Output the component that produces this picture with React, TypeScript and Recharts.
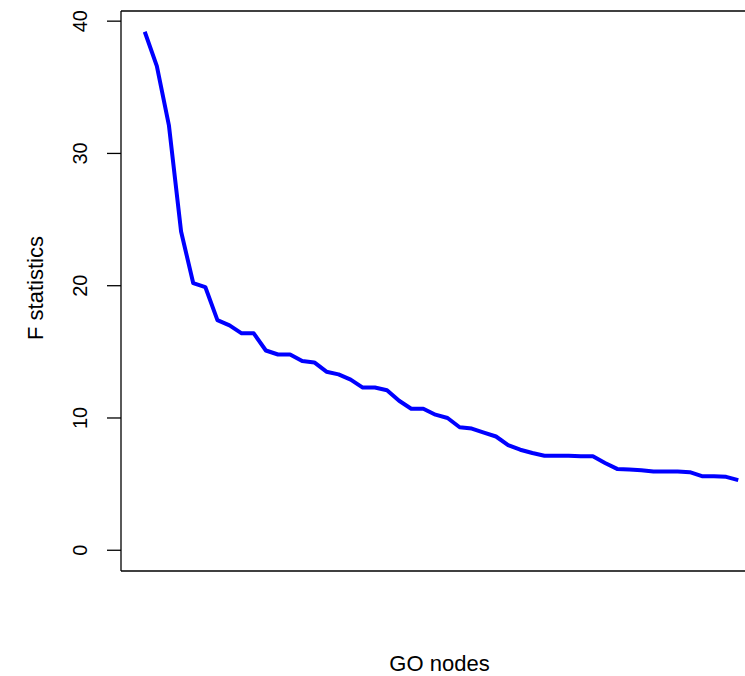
import { LineChart, Line, XAxis, YAxis, ReferenceLine } from 'recharts';

// GO node rank (1..50) and F statistic
const nodeRanks = [
  1, 2, 3, 4, 5, 6, 7, 8, 9, 10, 11, 12, 13, 14, 15, 16, 17, 18, 19, 20, 21,
  22, 23, 24, 25, 26, 27, 28, 29, 30, 31, 32, 33, 34, 35, 36, 37, 38, 39, 40,
  41, 42, 43, 44, 45, 46, 47, 48, 49, 50,
];
const fStats = [
  39.2, 36.6, 32.1, 24.1, 20.2, 19.9, 17.4, 17.0, 16.4, 16.4, 15.1, 14.8, 14.8,
  14.3, 14.2, 13.5, 13.3, 12.9, 12.3, 12.3, 12.1, 11.3, 10.7, 10.7, 10.25, 10.0,
  9.3, 9.2, 8.9, 8.6, 7.95, 7.6, 7.35, 7.15, 7.15, 7.15, 7.1, 7.1, 6.6, 6.15,
  6.1, 6.05, 5.95, 5.95, 5.95, 5.9, 5.6, 5.6, 5.55, 5.3,
];
const yTicks = [0, 10, 20, 30, 40];

const data = nodeRanks.map((rank, i) => ({ rank, f: fStats[i] }));

// R-style 4% padding around the data range
const n = nodeRanks.length;
const xPad = 0.04 * (n - 1);
const yMax = Math.max(...fStats);
const yPad = 0.04 * yMax;

const FONT = 'Liberation Sans, Arial, Helvetica, sans-serif';

const YTick = (props: any) => {
  const { x, y, payload } = props;
  return (
    <text
      x={x}
      y={y}
      transform={`rotate(-90, ${x}, ${y})`}
      textAnchor="middle"
      fontSize={20}
      fontFamily={FONT}
      fill="#000"
    >
      {payload.value}
    </text>
  );
};

const YLabel = (props: any) => {
  const { viewBox } = props;
  const x = viewBox.x + 43;
  const y = viewBox.y + viewBox.height / 2 - 3;
  return (
    <text
      x={x}
      y={y}
      transform={`rotate(-90, ${x}, ${y})`}
      textAnchor="middle"
      fontSize={22}
      fontFamily={FONT}
      fill="#000"
    >
      F statistics
    </text>
  );
};

const XLabel = (props: any) => {
  const { viewBox } = props;
  return (
    <text
      x={viewBox.x + viewBox.width / 2 - 2}
      y={viewBox.y + viewBox.height - 5}
      textAnchor="middle"
      fontSize={22}
      fontFamily={FONT}
      fill="#000"
    >
      GO nodes
    </text>
  );
};

export default function App() {
  return (
    <div
      style={{
        position: 'absolute',
        left: 0,
        top: 0,
        width: 745,
        height: 676,
        overflow: 'hidden',
        background: '#fff',
      }}
    >
      <LineChart
        width={780}
        height={676}
        data={data}
        margin={{ top: 11, right: 18, bottom: 0, left: 0 }}
      >
        <XAxis
          dataKey="rank"
          type="number"
          domain={[1 - xPad, n + xPad]}
          allowDataOverflow
          tick={false}
          tickLine={false}
          height={105}
          axisLine={{ stroke: '#000', strokeWidth: 1.3 }}
          label={<XLabel />}
        />
        <YAxis
          width={121}
          type="number"
          domain={[-yPad, yMax + yPad]}
          allowDataOverflow
          ticks={yTicks}
          interval={0}
          tickSize={14}
          tickMargin={20}
          tickLine={{ stroke: '#000', strokeWidth: 1.3 }}
          axisLine={{ stroke: '#000', strokeWidth: 1.3 }}
          tick={<YTick />}
          label={<YLabel />}
        />
        <ReferenceLine
          y={yMax + yPad}
          stroke="#000"
          strokeWidth={1.3}
          ifOverflow="visible"
        />
        <Line
          type="linear"
          dataKey="f"
          stroke="#0000ff"
          strokeWidth={4}
          strokeLinejoin="round"
          dot={false}
          activeDot={false}
          isAnimationActive={false}
        />
      </LineChart>
    </div>
  );
}
